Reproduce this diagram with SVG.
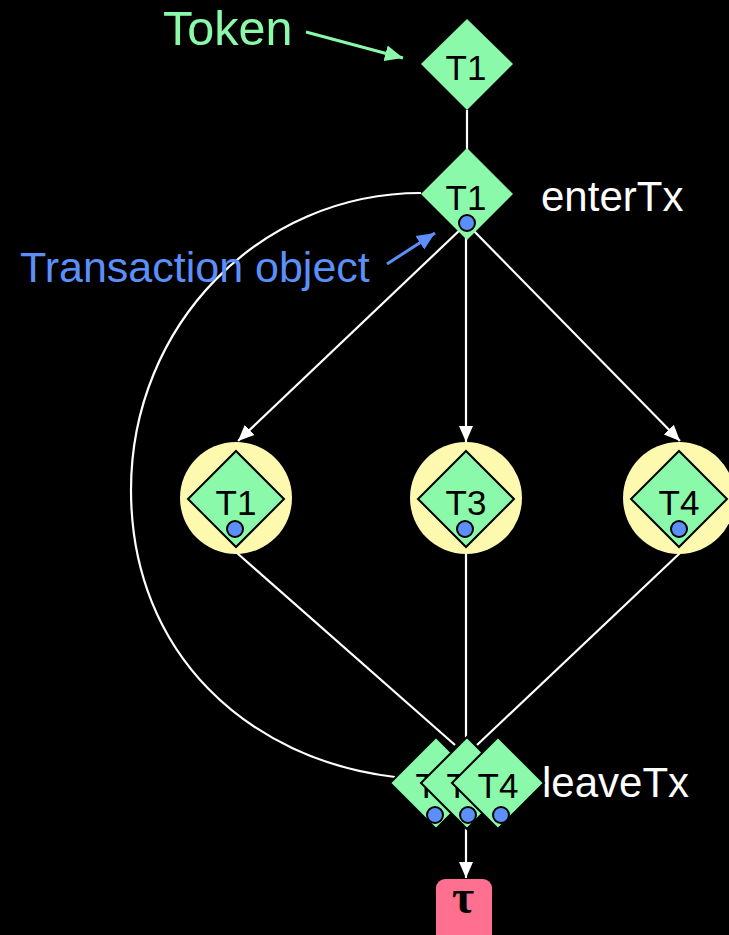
<svg xmlns="http://www.w3.org/2000/svg" width="729" height="935" viewBox="0 0 729 935">
  <style>
    .tok { fill: #8afaaa; }
    .tok-edge { fill: #8afaaa; stroke: #000; stroke-width: 2; }
    .ring { fill: #fdfab0; }
    .dot { fill: #5b8ff9; stroke: #000; stroke-width: 2; }
    .lbl { font-family: "Liberation Sans", Arial, sans-serif; fill: #000; font-size: 35px; text-anchor: middle; }
    .note { font-family: "Liberation Sans", Arial, sans-serif; font-size: 42px; }
    .wire { stroke: #fff; stroke-width: 2.2; fill: none; }
  </style>
  <defs>
    <marker id="headW" markerUnits="userSpaceOnUse" markerWidth="18" markerHeight="16" refX="16" refY="8" orient="auto">
      <path d="M0,1 L16,8 L0,15 Z" fill="#fff"/>
    </marker>
    <marker id="headG" markerUnits="userSpaceOnUse" markerWidth="20" markerHeight="18" refX="18" refY="9" orient="auto">
      <path d="M0,1 L18,9 L0,17 Z" fill="#8afaaa"/>
    </marker>
    <marker id="headB" markerUnits="userSpaceOnUse" markerWidth="20" markerHeight="18" refX="18" refY="9" orient="auto">
      <path d="M0,1 L18,9 L0,17 Z" fill="#5b8ff9"/>
    </marker>
  </defs>

  <rect x="0" y="0" width="729" height="935" fill="#000"/>

  <!-- connectors -->
  <g id="connectors">
    <line class="wire" x1="467" y1="110" x2="467" y2="150"/>
    <line class="wire" x1="462" y1="228" x2="238" y2="441" marker-end="url(#headW)"/>
    <line class="wire" x1="466" y1="230" x2="466" y2="442" marker-end="url(#headW)"/>
    <line class="wire" x1="471" y1="228" x2="680" y2="441" marker-end="url(#headW)"/>
    <line class="wire" x1="237" y1="553" x2="455" y2="745"/>
    <line class="wire" x1="466" y1="553" x2="466" y2="742"/>
    <line class="wire" x1="680" y1="553" x2="477" y2="745"/>
    <path class="wire" d="M 421 193 C 260 193, 131 325, 131 490 C 131 655, 250 760, 395 777"/>
    <line class="wire" x1="466" y1="828" x2="466" y2="878" marker-end="url(#headW)"/>
    <line x1="306" y1="32" x2="403" y2="58" stroke="#8afaaa" stroke-width="3" marker-end="url(#headG)"/>
    <line x1="387" y1="264" x2="435" y2="233" stroke="#5b8ff9" stroke-width="3" marker-end="url(#headB)"/>
  </g>

  <!-- labels -->
  <text class="note" x="163" y="45" fill="#8afaaa" style="font-size:48.5px">Token</text>
  <text class="note" x="20" y="282" fill="#5b8ff9" style="font-size:43px">Transaction object</text>
  <text class="note" x="541" y="211" fill="#fff">enterTx</text>
  <text class="note" x="542" y="797" fill="#fff">leaveTx</text>

  <!-- incoming token -->
  <g id="token">
    <polygon class="tok" points="467,19 513,64 467,110 421,64"/>
    <text class="lbl" x="466" y="80">T1</text>
  </g>

  <!-- enterTx -->
  <g id="enterTx">
    <polygon class="tok" points="467,148 513,194 467,240 421,194"/>
    <text class="lbl" x="466" y="210">T1</text>
    <circle class="dot" cx="467" cy="223" r="8"/>
  </g>

  <!-- parallel branches -->
  <g id="branchT1">
    <circle class="ring" cx="236" cy="498" r="56"/>
    <polygon class="tok-edge" points="236,451 284,499 236,547 188,499"/>
    <text class="lbl" x="236" y="515">T1</text>
    <circle class="dot" cx="235" cy="529" r="8"/>
  </g>
  <g id="branchT3">
    <circle class="ring" cx="466" cy="498" r="56"/>
    <polygon class="tok-edge" points="466,451 514,499 466,547 418,499"/>
    <text class="lbl" x="466" y="515">T3</text>
    <circle class="dot" cx="465" cy="529" r="8"/>
  </g>
  <g id="branchT4">
    <circle class="ring" cx="679" cy="498" r="56"/>
    <polygon class="tok-edge" points="679,451 727,499 679,547 631,499"/>
    <text class="lbl" x="679" y="515">T4</text>
    <circle class="dot" cx="679" cy="529" r="8"/>
  </g>

  <!-- leaveTx: stacked tokens -->
  <g id="leaveTx">
    <g id="leaveT1">
      <polygon class="tok-edge" points="436,737 482,783 436,829 390,783"/>
      <text class="lbl" x="436" y="798">T1</text>
      <circle class="dot" cx="435" cy="815" r="8"/>
    </g>
    <g id="leaveT3">
      <polygon class="tok-edge" points="467,737 513,783 467,829 421,783"/>
      <text class="lbl" x="467" y="798">T3</text>
      <circle class="dot" cx="468" cy="815" r="8"/>
    </g>
    <g id="leaveT4">
      <polygon class="tok-edge" points="498,737 544,783 498,829 452,783"/>
      <text class="lbl" x="498" y="798">T4</text>
      <circle class="dot" cx="501" cy="815" r="8"/>
    </g>
  </g>

  <!-- silent step -->
  <g id="tau">
    <rect x="436" y="879" width="56" height="70" rx="9" fill="#ff6f8f"/>
    <text x="463" y="913" font-family="'Liberation Serif', 'Times New Roman', serif" font-size="48" font-weight="bold" text-anchor="middle" fill="#000">τ</text>
  </g>
</svg>
